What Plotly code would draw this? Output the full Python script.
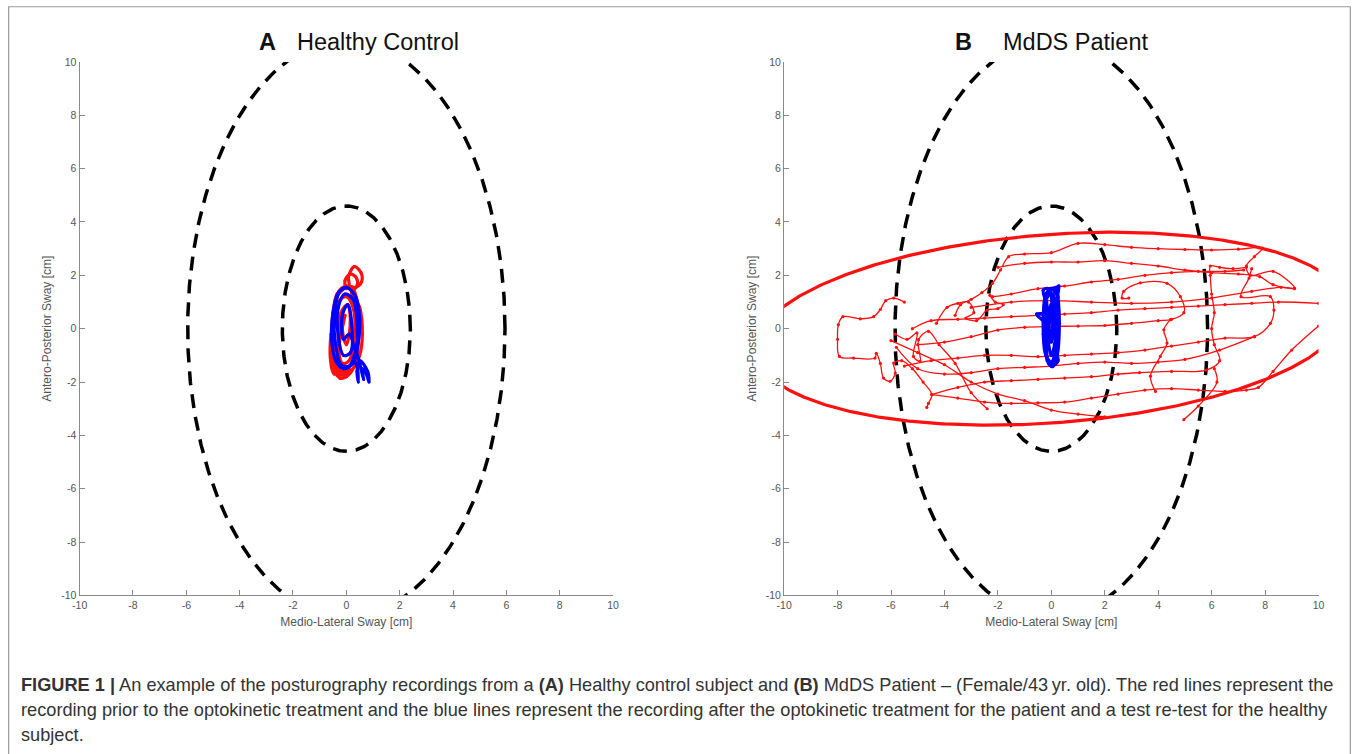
import numpy as np
import plotly.graph_objects as go

# target frame (reference picture)
TW, TH = 1357, 754
FW, FH = 1357, 754
# measured mapping of figure pixels onto the captured picture
SX, OX = 0.989, 8.4
SY, OY = 0.985, 6.0

# ---------------- data ----------------
X_TICKS = [-10, -8, -6, -4, -2, 0, 2, 4, 6, 8, 10]
Y_TICKS = [-10, -8, -6, -4, -2, 0, 2, 4, 6, 8, 10]
TICK_LABELS = ["-10", "-8", "-6", "-4", "-2", "0", "2", "4", "6", "8", "10"]

# confidence ellipses (semi-axes in cm, rotation in degrees)
A_OUTER = dict(a=5.95, b=10.8, ang=0.0)
A_INNER = dict(a=2.4, b=4.6, ang=0.0)
B_OUTER = dict(a=5.85, b=10.8, ang=0.0)
B_INNER = dict(a=2.45, b=4.6, ang=0.0)
B_RED_ELL = dict(a=11.1, b=3.53, ang=4.3)

# Panel A - healthy control, test (red) and re-test (blue)
A_RED = [
    (0.0, -1.8), (-0.35, -1.5), (-0.5, -0.5), (-0.5, 0.5), (-0.35, 1.3), (0.0, 1.6), (0.3, 1.4),
    (0.45, 0.5), (0.45, -0.5), (0.3, -1.4), (0.0, -1.8), (-0.25, -1.85), (-0.55, -1.2), (-0.55, 0.0),
    (-0.4, 1.1), (-0.1, 1.5), (0.1, 1.6), (0.08, 1.95), (0.3, 2.33), (0.55, 2.1), (0.57, 1.75),
    (0.35, 1.55), (0.1, 1.6), (0.0, 1.5), (-0.05, 1.8), (0.15, 2.05), (0.38, 1.9), (0.4, 1.6),
    (0.2, 1.35), (0.5, 0.8), (0.6, -0.2), (0.5, -1.0), (0.2, -1.55), (-0.2, -1.6), (-0.45, -1.0),
    (-0.5, 0.2), (-0.3, 1.0), (0.0, 1.2), (0.25, 0.8), (0.3, -0.3), (0.1, -1.2), (-0.15, -1.3),
    (-0.3, -0.4), (-0.2, 0.6), (0.05, 0.9), (0.15, 0.2), (0.0, -0.6), (-0.15, 0.0), (-0.05, 0.5),
    (-0.35, -1.6), (-0.1, -1.75), (0.1, -1.5), (-0.45, -1.7), (-0.6, -1.1), (-0.58, -0.2),
]
A_BLUE = [
    (0.0, 1.55), (-0.3, 1.35), (-0.5, 0.6), (-0.55, -0.4), (-0.4, -1.2), (-0.1, -1.5), (0.25, -1.3),
    (0.45, -0.5), (0.5, 0.4), (0.35, 1.2), (0.0, 1.55), (-0.25, 1.4), (-0.45, 0.5), (-0.4, -0.6),
    (-0.2, -1.35), (0.1, -1.4), (0.35, -0.8), (0.4, 0.3), (0.25, 1.1), (-0.05, 1.3), (-0.3, 0.8),
    (-0.3, -0.3), (-0.1, -1.0), (0.15, -0.9), (0.2, 0.2), (0.05, 0.9), (-0.15, 0.5), (-0.1, -0.4),
    (0.1, -0.2), (0.3, -0.7), (0.45, -1.1), (0.55, -1.5), (0.65, -1.9), (0.6, -1.5), (0.75, -1.7),
    (0.85, -2.0), (0.8, -1.6), (0.5, -1.2), (0.4, -1.6), (0.45, -2.0), (0.4, -1.4), (0.25, -1.1),
]

# Panel B - MdDS patient, pre-treatment (red) as traced strands
B_RED_SEGMENTS = [
    [(-5.5, 1.0), (-5.9, 1.15), (-6.2, 1.05), (-6.4, 0.72), (-6.65, 0.45), (-7.15, 0.37), (-7.8, 0.45),
     (-7.97, 0.15), (-8.0, -0.4), (-7.93, -1.04), (-7.4, -1.1), (-6.6, -1.1), (-6.55, -0.92), (-6.4, -1.3),
     (-6.28, -1.85), (-6.03, -1.97), (-5.84, -1.66), (-5.9, -1.29), (-5.6, -1.2), (-5.2, -1.5),
     (-4.8, -2.0), (-4.47, -2.47), (-4.6, -2.8), (-4.66, -2.95)],
    [(-4.47, -2.47), (-3.5, -2.6), (-2.5, -2.75), (-1.5, -2.8), (-0.5, -2.78), (0.5, -2.75), (1.5, -2.6),
     (2.5, -2.45), (3.5, -2.3), (4.5, -2.25), (5.5, -2.3), (6.5, -2.35), (7.3, -2.3), (7.75, -2.2),
     (8.3, -1.6), (9.0, -0.8), (10.0, 0.1)],
    [(-4.47, -2.47), (-3.5, -2.2), (-2.5, -2.0), (-1.5, -1.95), (-0.5, -1.9), (0.5, -1.85), (1.5, -1.8),
     (2.5, -1.7), (3.3, -1.65), (4.5, -1.6), (5.8, -1.55), (6.3, -1.2), (6.1, -0.6), (6.0, 0.0),
     (6.1, 0.6), (6.0, 1.3), (5.95, 2.0), (5.95, 2.35), (6.3, 2.3), (6.8, 2.25), (7.3, 2.3)],
    [(-3.6, 0.5), (-3.4, 0.9), (-3.0, 1.1), (-2.6, 1.35), (-2.2, 1.7), (-1.9, 2.2), (-1.6, 2.7),
     (-1.0, 2.8), (0.0, 2.85), (1.0, 3.2), (2.0, 3.15), (3.0, 3.05), (4.0, 3.0), (5.0, 2.97),
     (6.0, 2.95), (7.0, 2.98), (7.9, 3.02), (7.6, 2.7), (7.3, 2.35), (7.45, 2.0), (8.3, 2.15),
     (9.1, 1.52), (8.3, 1.65), (7.8, 1.95), (7.0, 2.05), (6.0, 2.1), (5.0, 2.2), (4.0, 2.35),
     (3.0, 2.45), (2.0, 2.55), (1.0, 2.5), (0.0, 2.5), (-1.0, 2.45), (-2.0, 2.3)],
    [(-5.2, 0.0), (-4.5, 0.3), (-3.5, 0.35), (-2.5, 0.4), (-1.5, 0.45), (-0.5, 0.5), (0.5, 0.55),
     (1.5, 0.6), (2.5, 0.7), (3.5, 0.75), (4.5, 0.8), (5.5, 0.85), (6.5, 0.9), (7.5, 0.95),
     (8.5, 1.0), (10.0, 0.95)],
    [(-5.0, -0.6), (-4.0, -0.5), (-3.0, -0.3), (-2.0, -0.05), (-1.0, 0.05), (0.0, 0.08), (1.0, 0.1),
     (2.0, 0.12), (3.0, 0.2), (4.0, 0.3), (4.5, 0.35), (4.96, 0.6), (4.83, 1.2), (4.33, 1.7),
     (3.33, 1.72), (2.71, 1.4), (2.65, 1.15), (2.9, 1.15)],
    [(4.46, 0.34), (4.21, -0.04), (4.33, -0.54), (4.08, -1.04), (3.71, -1.78), (3.9, -2.35)],
    [(-5.5, -1.4), (-4.5, -1.2), (-3.5, -1.1), (-2.5, -1.0), (-1.5, -1.0), (-0.5, -1.05), (0.5, -1.0),
     (1.5, -0.95), (2.5, -0.9), (3.5, -0.8), (4.5, -0.65), (5.5, -0.5), (6.5, -0.35), (7.6, -0.3),
     (8.2, 0.2), (8.33, 0.7), (8.2, 1.2), (7.1, 1.2), (7.4, 1.9), (7.5, 2.25)],
    [(-5.8, -0.7), (-5.0, -1.5), (-4.0, -1.7), (-3.0, -1.65), (-2.0, -1.5), (-1.0, -1.45), (0.0, -1.4),
     (1.0, -1.3), (2.0, -1.25), (3.0, -1.3), (4.0, -1.25), (5.0, -1.15), (6.3, -0.8), (7.6, -0.3)],
    [(-4.3, 0.2), (-3.9, 0.8), (-3.5, 0.95), (-3.1, 1.0), (-2.9, 0.6), (-3.2, 0.4), (-2.8, 0.3),
     (-2.4, 0.7), (-2.0, 0.75), (-1.8, 0.9), (-2.1, 1.0), (-2.3, 1.25)],
    [(-2.2, 1.2), (-1.5, 1.3), (-0.5, 1.5), (0.5, 1.6), (1.5, 1.75), (2.5, 1.85), (3.5, 2.0),
     (4.5, 2.1), (5.5, 2.15), (6.5, 2.15), (7.2, 2.2)],
    [(-3.0, 0.8), (-1.5, 1.0), (0.0, 1.05), (1.5, 1.0), (3.0, 0.95), (4.5, 1.0), (6.0, 1.15),
     (7.5, 1.4), (8.6, 1.55), (9.1, 1.5)],
    [(-6.0, -0.45), (-5.0, -0.9), (-4.0, -1.35), (-3.0, -2.0), (-2.0, -2.45), (-1.0, -2.7),
     (0.0, -3.05), (1.0, -3.2), (2.0, -3.3)],
    [(4.96, -3.41), (5.5, -2.9), (6.2, -2.0), (6.1, -1.5)],
    [(-5.84, -0.2), (-5.4, -0.4), (-5.03, -0.16), (-5.16, -1.04), (-4.91, -1.22), (-4.97, -0.41),
     (-4.6, -0.1), (-4.2, -0.6), (-3.6, -1.3), (-3.0, -2.4), (-2.4, -3.0)],
]

# Panel B - post-treatment (blue)
B_BLUE = [
    (0.0, 1.5), (0.2, 1.3), (0.25, 0.5), (0.25, -0.5), (0.15, -1.2), (0.0, -1.4), (-0.15, -1.2),
    (-0.25, -0.5), (-0.3, 0.5), (-0.2, 1.3), (0.0, 1.5), (0.15, 1.45), (0.28, 1.6), (0.2, 1.0),
    (0.18, -0.3), (0.1, -1.1), (-0.05, -1.3), (-0.2, -0.8), (-0.25, 0.2), (-0.55, 0.55), (-0.2, 0.6),
    (-0.15, 1.2), (0.05, 1.3), (0.15, 0.6), (0.12, -0.6), (0.0, -1.0), (-0.12, -0.4), (-0.1, 0.6),
    (0.05, 1.0), (0.1, 0.0), (0.2, -0.9), (0.25, -1.2), (0.1, -1.35), (-0.2, -1.0), (-0.3, -0.2),
    (-0.25, 0.9), (-0.05, 1.4), (0.2, 1.55), (0.25, 1.2), (0.3, 0.2), (0.22, -1.0), (0.05, -1.42),
    (-0.1, -1.3), (-0.22, -0.2), (-0.18, 0.9), (-0.3, 1.45), (-0.1, 1.5), (0.05, 0.3), (0.0, -0.5),
    (-0.08, 0.2), (0.08, 0.8), (0.15, -0.2),
]

CAPTION = [
    "<b>FIGURE 1 |</b> An example of the posturography recordings from a <b>(A)</b> Healthy control subject and "
    "<b>(B)</b> MdDS Patient – (Female/43\u2009yr. old). The red lines represent the",
    "recording prior to the optokinetic treatment and the blue lines represent the recording after the "
    "optokinetic treatment for the patient and a test re-test for the healthy",
    "subject.",
]


def px(X):
    return (X - OX) / SX / FW


def py(Y):
    return 1 - (Y - OY) / SY / FH


def ellipse(p):
    t = np.linspace(0, 2 * np.pi, 721)
    x, y = p["a"] * np.cos(t), p["b"] * np.sin(t)
    r = np.deg2rad(p["ang"])
    return x * np.cos(r) - y * np.sin(r), x * np.sin(r) + y * np.cos(r)


def xy(pts):
    return [p[0] for p in pts], [p[1] for p in pts]


def segs(seglist):
    xs, ys = [], []
    for s in seglist:
        sx, sy = xy(s)
        xs += sx + [None]
        ys += sy + [None]
    return xs, ys


RED = "#ff1010"
BLUE = "#0000ff"
DASH = dict(color="black", width=3.5, dash="14px,9px")

fig = go.Figure()

# Panel A
for p in (A_OUTER, A_INNER):
    ex, ey = ellipse(p)
    fig.add_trace(go.Scatter(x=ex, y=ey, mode="lines", line=DASH, xaxis="x", yaxis="y"))
ax_, ay_ = xy(A_RED)
fig.add_trace(go.Scatter(x=ax_, y=ay_, mode="lines+markers", line=dict(color=RED, width=3.2, shape="spline"),
                         marker=dict(size=3, color=RED), xaxis="x", yaxis="y"))
bx_, by_ = xy(A_BLUE)
fig.add_trace(go.Scatter(x=bx_, y=by_, mode="lines+markers", line=dict(color=BLUE, width=3.2, shape="spline"),
                         marker=dict(size=3, color=BLUE), xaxis="x", yaxis="y"))

# Panel B
for p in (B_OUTER, B_INNER):
    ex, ey = ellipse(p)
    fig.add_trace(go.Scatter(x=ex, y=ey, mode="lines", line=DASH, xaxis="x2", yaxis="y2"))
rx, ry = segs(B_RED_SEGMENTS)
fig.add_trace(go.Scatter(x=rx, y=ry, mode="lines+markers", line=dict(color=RED, width=1.3, shape="spline"),
                         marker=dict(size=3.2, color=RED), xaxis="x2", yaxis="y2"))
ex, ey = ellipse(B_RED_ELL)
fig.add_trace(go.Scatter(x=ex, y=ey, mode="lines", line=dict(color=RED, width=3.2), xaxis="x2", yaxis="y2"))
bbx, bby = xy(B_BLUE)
fig.add_trace(go.Scatter(x=bbx, y=bby, mode="lines+markers", line=dict(color=BLUE, width=3.2, shape="spline"),
                         marker=dict(size=3.5, color=BLUE), xaxis="x2", yaxis="y2"))

axis_common = dict(range=[-10, 10], tickvals=X_TICKS, ticktext=TICK_LABELS, ticks="inside", ticklen=5,
                   tickwidth=1, tickcolor="#888", showline=True, linecolor="#8a8a8a", linewidth=1.3,
                   showgrid=False, zeroline=False,
                   tickfont=dict(family="Liberation Sans, Arial", size=10.5, color="#555"),
                   fixedrange=True)
title_font = dict(family="Liberation Sans, Arial", size=12, color="#555")

xa = [px(80), px(613)]
xb = [px(784), px(1318)]
yd = [py(596), py(62)]

fig.update_layout(
    width=FW, height=FH, margin=dict(l=0, r=0, t=0, b=0),
    paper_bgcolor="white", plot_bgcolor="white", showlegend=False,
    xaxis=dict(axis_common, domain=xa, anchor="y",
               title=dict(text="Medio-Lateral Sway [cm]", font=title_font, standoff=7)),
    yaxis=dict(axis_common, domain=yd, anchor="x", tickvals=Y_TICKS,
               title=dict(text="Antero-Posterior Sway [cm]", font=title_font, standoff=6)),
    xaxis2=dict(axis_common, domain=xb, anchor="y2",
                title=dict(text="Medio-Lateral Sway [cm]", font=title_font, standoff=7)),
    yaxis2=dict(axis_common, domain=yd, anchor="x2", tickvals=Y_TICKS,
                title=dict(text="Antero-Posterior Sway [cm]", font=title_font, standoff=6)),
)

tf = dict(family="Liberation Sans, Arial", size=23.5, color="#111")
ann = [
    dict(text="<b>A</b>", x=px(268), y=py(42), xanchor="center"),
    dict(text="Healthy Control", x=px(295), y=py(42), xanchor="left"),
    dict(text="<b>B</b>", x=px(963), y=py(42), xanchor="center"),
    dict(text="MdDS Patient", x=px(1001), y=py(42), xanchor="left"),
]
for a in ann:
    fig.add_annotation(xref="paper", yref="paper", yanchor="middle", showarrow=False, font=tf, **a)

cap_y = [686, 711, 736]
for line, yy in zip(CAPTION, cap_y):
    fig.add_annotation(text=line, xref="paper", yref="paper", x=px(19), y=py(yy), xanchor="left",
                       yanchor="middle", showarrow=False, align="left",
                       font=dict(family="Liberation Sans, Arial", size=18.2, color="#333"))

fig.add_shape(type="rect", xref="paper", yref="paper", x0=max(px(8), 0.0005), x1=min(px(1351), 0.9995),
              y0=-0.05, y1=min(py(6), 0.999),
              line=dict(color="#999", width=1.2), fillcolor="rgba(0,0,0,0)")

fig.write_html("out.html", config={"displayModeBar": False},
               post_script="document.body.style.margin='0px';")
